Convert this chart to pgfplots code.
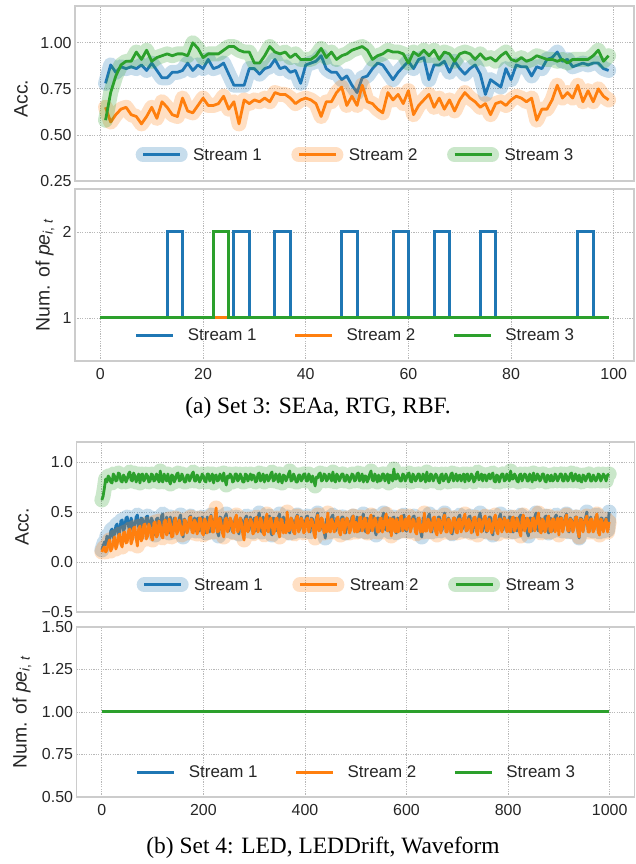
\documentclass[border=0pt]{standalone}
\usepackage{fontspec}
\setmainfont{Liberation Sans}
\newfontfamily\capfont{Liberation Serif}
\usepackage{pgfplots}
\usepackage{pgfplotstable}
\pgfplotsset{compat=1.18}
\definecolor{c1}{HTML}{1F77B4}
\definecolor{c2}{HTML}{FF7F0E}
\definecolor{c3}{HTML}{2CA02C}
\definecolor{axgray}{HTML}{CCCCCC}
\definecolor{gridgray}{HTML}{B8B8B8}
\definecolor{txt}{HTML}{262626}

\pgfplotstableread{
t s1 s2 s3
1 0.78 0.65 0.58
2 0.88 0.57 0.73
3 0.84 0.61 0.82
4 0.87 0.64 0.88
5 0.86 0.65 0.90
6 0.87 0.61 0.90
7 0.86 0.60 0.95
8 0.88 0.56 0.91
9 0.85 0.60 0.96
10 0.89 0.65 0.90
11 0.85 0.59 0.92
12 0.81 0.68 0.93
13 0.81 0.65 0.94
14 0.84 0.61 0.93
15 0.84 0.60 0.94
16 0.85 0.70 0.94
17 0.89 0.63 0.93
18 0.85 0.62 1.00
19 0.88 0.66 0.97
20 0.86 0.70 0.92
21 0.91 0.66 0.94
22 0.86 0.66 0.94
23 0.87 0.67 0.94
24 0.89 0.71 0.96
25 0.83 0.64 0.98
26 0.77 0.68 0.98
27 0.77 0.56 0.96
28 0.77 0.69 0.95
29 0.86 0.67 0.95
30 0.86 0.69 0.89
31 0.83 0.68 0.89
32 0.86 0.70 0.93
33 0.87 0.68 0.98
34 0.91 0.73 0.95
35 0.86 0.72 0.94
36 0.87 0.72 0.95
37 0.84 0.70 0.92
38 0.85 0.67 0.94
39 0.78 0.69 0.91
40 0.88 0.70 0.91
41 0.89 0.69 0.91
42 0.90 0.67 0.93
43 0.93 0.60 0.97
44 0.86 0.68 0.92
45 0.84 0.68 0.95
46 0.84 0.73 0.91
47 0.80 0.76 0.93
48 0.82 0.66 0.94
49 0.77 0.71 0.96
50 0.73 0.66 0.97
51 0.81 0.77 0.98
52 0.82 0.68 0.96
53 0.86 0.67 0.91
54 0.89 0.64 0.93
55 0.88 0.62 0.94
56 0.84 0.73 0.96
57 0.80 0.69 0.95
58 0.84 0.72 0.95
59 0.87 0.67 0.94
60 0.90 0.74 0.89
61 0.86 0.61 0.95
62 0.91 0.66 0.93
63 0.92 0.69 0.96
64 0.80 0.72 0.93
65 0.88 0.65 0.96
66 0.88 0.70 0.91
67 0.90 0.64 0.95
68 0.84 0.69 0.94
69 0.90 0.63 0.90
70 0.86 0.69 0.94
71 0.83 0.73 0.95
72 0.86 0.70 0.94
73 0.88 0.68 0.91
74 0.83 0.65 0.94
75 0.72 0.67 0.91
76 0.80 0.61 0.92
77 0.78 0.67 0.90
78 0.76 0.68 0.93
79 0.86 0.66 0.95
80 0.80 0.69 0.91
81 0.88 0.71 0.90
82 0.87 0.70 0.92
83 0.87 0.68 0.90
84 0.82 0.70 0.91
85 0.87 0.58 0.93
86 0.86 0.64 0.92
87 0.91 0.64 0.91
88 0.92 0.69 0.91
89 0.95 0.77 0.90
90 0.90 0.70 0.91
91 0.91 0.73 0.89
92 0.87 0.70 0.91
93 0.88 0.77 0.91
94 0.89 0.68 0.91
95 0.88 0.74 0.91
96 0.89 0.68 0.93
97 0.89 0.75 0.96
98 0.86 0.71 0.90
99 0.85 0.69 0.93
}\setthree

\pgfplotstableread{
t s1 s2 s3
0 0.12 0.10 0.62
2.5 0.16 0.13 0.66
5 0.20 0.15 0.74
7.5 0.17 0.10 0.83
10 0.26 0.12 0.80
12.5 0.19 0.18 0.86
15 0.22 0.22 0.84
17.5 0.31 0.11 0.80
20 0.33 0.14 0.79
22.5 0.24 0.21 0.88
25 0.28 0.25 0.86
27.5 0.36 0.13 0.81
30 0.38 0.17 0.82
32.5 0.27 0.26 0.89
35 0.30 0.28 0.88
37.5 0.41 0.18 0.81
40 0.42 0.15 0.80
42.5 0.31 0.29 0.87
45 0.34 0.30 0.85
47.5 0.44 0.19 0.80
50 0.45 0.20 0.83
52.5 0.36 0.31 0.88
55 0.29 0.33 0.90
57.5 0.44 0.18 0.82
60 0.40 0.22 0.81
62.5 0.30 0.34 0.89
65 0.36 0.35 0.86
67.5 0.45 0.24 0.80
70 0.47 0.16 0.84
72.5 0.35 0.33 0.88
75 0.31 0.36 0.79
77.5 0.44 0.21 0.87
80 0.43 0.24 0.88
82.5 0.30 0.37 0.81
85 0.37 0.38 0.83
87.5 0.45 0.23 0.88
90 0.46 0.26 0.86
92.5 0.32 0.38 0.80
95 0.33 0.34 0.81
97.5 0.44 0.25 0.88
100 0.41 0.22 0.87
102.5 0.33 0.39 0.81
105 0.27 0.40 0.82
107.5 0.43 0.25 0.88
110 0.44 0.27 0.85
112.5 0.31 0.41 0.80
115 0.35 0.37 0.91
117.5 0.46 0.26 0.82
120 0.48 0.24 0.80
122.5 0.30 0.40 0.88
125 0.32 0.42 0.84
127.5 0.45 0.27 0.81
130 0.39 0.30 0.88
132.5 0.29 0.43 0.81
135 0.45 0.38 0.78
137.5 0.34 0.25 0.87
140 0.30 0.26 0.86
142.5 0.44 0.40 0.80
145 0.42 0.44 0.83
147.5 0.31 0.28 0.88
150 0.36 0.31 0.89
152.5 0.44 0.42 0.81
155 0.47 0.36 0.82
157.5 0.33 0.27 0.88
160 0.25 0.28 0.85
162.5 0.43 0.42 0.80
165 0.40 0.41 0.80
167.5 0.30 0.29 0.87
170 0.34 0.33 0.87
172.5 0.45 0.44 0.81
175 0.46 0.45 0.84
177.5 0.32 0.30 0.88
180 0.38 0.29 0.90
182.5 0.44 0.42 0.81
185 0.31 0.39 0.81
187.5 0.43 0.28 0.87
190 0.44 0.32 0.85
192.5 0.31 0.44 0.80
195 0.36 0.43 0.83
197.5 0.45 0.29 0.88
200 0.43 0.27 0.86
202.5 0.33 0.43 0.81
205 0.29 0.40 0.80
207.5 0.45 0.29 0.88
210 0.39 0.34 0.88
212.5 0.30 0.44 0.81
215 0.47 0.46 0.84
217.5 0.34 0.30 0.88
220 0.33 0.30 0.79
222.5 0.44 0.43 0.86
225 0.41 0.54 0.87
227.5 0.30 0.30 0.81
230 0.26 0.31 0.82
232.5 0.45 0.44 0.88
235 0.44 0.38 0.85
237.5 0.31 0.29 0.81
240 0.37 0.25 0.89
242.5 0.45 0.42 0.82
245 0.48 0.44 0.77
247.5 0.33 0.30 0.86
250 0.31 0.35 0.84
252.5 0.44 0.44 0.88
255 0.40 0.41 0.86
257.5 0.30 0.31 0.80
260 0.35 0.29 0.81
262.5 0.44 0.43 0.88
265 0.45 0.47 0.88
267.5 0.32 0.30 0.81
270 0.28 0.33 0.83
272.5 0.44 0.44 0.88
275 0.42 0.39 0.85
277.5 0.31 0.28 0.80
280 0.38 0.22 0.80
282.5 0.44 0.41 0.88
285 0.46 0.43 0.87
287.5 0.31 0.30 0.81
290 0.32 0.36 0.84
292.5 0.45 0.43 0.88
295 0.39 0.40 0.82
297.5 0.30 0.28 0.87
300 0.44 0.30 0.86
302.5 0.31 0.43 0.80
305 0.34 0.45 0.81
307.5 0.45 0.30 0.88
310 0.49 0.34 0.89
312.5 0.33 0.44 0.81
315 0.30 0.41 0.84
317.5 0.45 0.29 0.88
320 0.41 0.27 0.80
322.5 0.31 0.43 0.86
325 0.37 0.48 0.87
327.5 0.45 0.30 0.81
330 0.46 0.35 0.83
332.5 0.30 0.44 0.88
335 0.27 0.39 0.90
337.5 0.44 0.28 0.81
340 0.43 0.31 0.82
342.5 0.31 0.43 0.88
345 0.35 0.44 0.85
347.5 0.45 0.30 0.80
350 0.48 0.25 0.88
352.5 0.32 0.43 0.82
355 0.32 0.42 0.79
357.5 0.45 0.29 0.87
360 0.40 0.37 0.86
362.5 0.31 0.29 0.81
365 0.45 0.50 0.84
367.5 0.33 0.31 0.88
370 0.29 0.32 0.91
372.5 0.44 0.44 0.81
375 0.42 0.40 0.82
377.5 0.30 0.30 0.88
380 0.36 0.28 0.85
382.5 0.44 0.43 0.80
385 0.47 0.46 0.80
387.5 0.31 0.30 0.87
390 0.33 0.35 0.87
392.5 0.45 0.44 0.81
395 0.41 0.41 0.83
397.5 0.31 0.29 0.88
400 0.38 0.31 0.88
402.5 0.45 0.42 0.81
405 0.46 0.44 0.81
407.5 0.32 0.30 0.88
410 0.30 0.36 0.85
412.5 0.44 0.43 0.80
415 0.43 0.40 0.86
417.5 0.31 0.29 0.81
420 0.35 0.24 0.76
422.5 0.44 0.42 0.85
425 0.49 0.47 0.84
427.5 0.33 0.31 0.88
430 0.32 0.33 0.89
432.5 0.44 0.44 0.81
435 0.40 0.42 0.82
437.5 0.31 0.29 0.88
440 0.24 0.37 0.87
442.5 0.43 0.30 0.81
445 0.44 0.49 0.83
447.5 0.32 0.31 0.88
450 0.37 0.30 0.85
452.5 0.45 0.43 0.81
455 0.47 0.39 0.90
457.5 0.33 0.30 0.82
460 0.31 0.34 0.80
462.5 0.44 0.43 0.88
465 0.42 0.45 0.86
467.5 0.31 0.30 0.81
470 0.36 0.27 0.84
472.5 0.45 0.42 0.88
475 0.45 0.43 0.88
477.5 0.32 0.29 0.81
480 0.29 0.36 0.81
482.5 0.44 0.44 0.87
485 0.41 0.41 0.85
487.5 0.31 0.29 0.80
490 0.38 0.32 0.83
492.5 0.45 0.43 0.88
495 0.46 0.46 0.87
497.5 0.32 0.30 0.81
500 0.33 0.40 0.82
502.5 0.45 0.30 0.88
505 0.43 0.31 0.89
507.5 0.31 0.44 0.81
510 0.37 0.45 0.84
512.5 0.44 0.31 0.88
515 0.48 0.34 0.80
517.5 0.32 0.44 0.86
520 0.30 0.42 0.86
522.5 0.44 0.29 0.80
525 0.41 0.29 0.83
527.5 0.31 0.43 0.88
530 0.35 0.47 0.91
532.5 0.45 0.31 0.82
535 0.46 0.36 0.81
537.5 0.32 0.44 0.88
540 0.27 0.41 0.85
542.5 0.44 0.30 0.80
545 0.44 0.30 0.87
547.5 0.31 0.43 0.81
550 0.38 0.44 0.82
552.5 0.45 0.30 0.88
555 0.49 0.35 0.88
557.5 0.33 0.44 0.81
560 0.32 0.48 0.84
562.5 0.45 0.31 0.88
565 0.40 0.33 0.79
567.5 0.30 0.44 0.87
570 0.36 0.26 0.86
572.5 0.44 0.43 0.81
575 0.45 0.40 0.93
577.5 0.31 0.30 0.83
580 0.29 0.43 0.83
582.5 0.44 0.30 0.88
585 0.42 0.31 0.85
587.5 0.31 0.44 0.81
590 0.37 0.46 0.81
592.5 0.45 0.31 0.88
595 0.47 0.36 0.87
597.5 0.32 0.43 0.81
600 0.31 0.32 0.84
602.5 0.44 0.43 0.88
605 0.44 0.46 0.89
607.5 0.31 0.30 0.81
610 0.38 0.35 0.80
612.5 0.45 0.43 0.88
615 0.46 0.41 0.86
617.5 0.32 0.30 0.81
620 0.33 0.28 0.83
622.5 0.44 0.43 0.88
625 0.40 0.44 0.88
627.5 0.31 0.30 0.81
630 0.25 0.37 0.82
632.5 0.44 0.30 0.88
635 0.43 0.49 0.85
637.5 0.31 0.31 0.80
640 0.36 0.31 0.90
642.5 0.45 0.43 0.82
645 0.48 0.40 0.81
647.5 0.32 0.30 0.88
650 0.30 0.34 0.87
652.5 0.44 0.44 0.81
655 0.42 0.45 0.84
657.5 0.31 0.30 0.88
660 0.37 0.27 0.86
662.5 0.45 0.43 0.81
665 0.45 0.42 0.79
667.5 0.31 0.29 0.87
670 0.32 0.36 0.88
672.5 0.44 0.44 0.81
675 0.49 0.47 0.83
677.5 0.33 0.30 0.88
680 0.35 0.30 0.85
682.5 0.44 0.43 0.80
685 0.41 0.41 0.82
687.5 0.30 0.29 0.88
690 0.28 0.35 0.89
692.5 0.44 0.44 0.81
695 0.44 0.44 0.84
697.5 0.31 0.30 0.88
700 0.39 0.29 0.81
702.5 0.45 0.43 0.86
705 0.47 0.43 0.87
707.5 0.32 0.30 0.81
710 0.33 0.36 0.85
712.5 0.44 0.44 0.88
715 0.42 0.48 0.80
717.5 0.31 0.31 0.87
720 0.36 0.32 0.88
722.5 0.45 0.43 0.81
725 0.46 0.40 0.83
727.5 0.31 0.29 0.88
730 0.30 0.35 0.86
732.5 0.44 0.44 0.80
735 0.43 0.45 0.82
737.5 0.31 0.31 0.88
740 0.38 0.27 0.90
742.5 0.45 0.43 0.82
745 0.49 0.42 0.84
747.5 0.33 0.30 0.88
750 0.31 0.37 0.81
752.5 0.44 0.44 0.87
755 0.40 0.46 0.87
757.5 0.30 0.31 0.81
760 0.35 0.31 0.85
762.5 0.45 0.43 0.88
765 0.45 0.39 0.83
767.5 0.31 0.29 0.87
770 0.27 0.34 0.89
772.5 0.44 0.44 0.81
775 0.44 0.47 0.80
777.5 0.32 0.31 0.87
780 0.37 0.28 0.86
782.5 0.45 0.43 0.80
785 0.48 0.43 0.84
787.5 0.32 0.30 0.88
790 0.32 0.36 0.88
792.5 0.45 0.44 0.81
795 0.41 0.41 0.82
797.5 0.31 0.30 0.88
800 0.36 0.42 0.85
802.5 0.45 0.31 0.81
805 0.45 0.30 0.91
807.5 0.31 0.43 0.83
810 0.30 0.45 0.83
812.5 0.44 0.31 0.88
815 0.43 0.34 0.86
817.5 0.31 0.44 0.81
820 0.38 0.40 0.80
822.5 0.45 0.30 0.87
825 0.47 0.26 0.88
827.5 0.32 0.43 0.81
830 0.33 0.47 0.84
832.5 0.44 0.31 0.88
835 0.41 0.35 0.87
837.5 0.30 0.44 0.81
840 0.26 0.42 0.81
842.5 0.44 0.30 0.88
845 0.44 0.31 0.85
847.5 0.31 0.43 0.80
850 0.37 0.44 0.89
852.5 0.45 0.31 0.82
855 0.49 0.37 0.82
857.5 0.33 0.44 0.88
860 0.31 0.49 0.86
862.5 0.44 0.31 0.81
865 0.42 0.29 0.83
867.5 0.31 0.43 0.88
870 0.35 0.41 0.88
872.5 0.45 0.30 0.81
875 0.46 0.33 0.80
877.5 0.32 0.44 0.87
880 0.29 0.46 0.85
882.5 0.44 0.31 0.81
885 0.43 0.30 0.87
887.5 0.31 0.43 0.81
890 0.38 0.43 0.82
892.5 0.45 0.30 0.88
895 0.47 0.35 0.86
897.5 0.32 0.44 0.81
900 0.33 0.27 0.84
902.5 0.45 0.43 0.88
905 0.44 0.44 0.88
907.5 0.31 0.30 0.81
910 0.37 0.36 0.81
912.5 0.45 0.43 0.88
915 0.48 0.47 0.86
917.5 0.32 0.31 0.81
920 0.30 0.31 0.83
922.5 0.44 0.43 0.88
925 0.42 0.41 0.89
927.5 0.31 0.30 0.81
930 0.36 0.34 0.82
932.5 0.45 0.44 0.88
935 0.45 0.45 0.85
937.5 0.31 0.30 0.81
940 0.24 0.25 0.87
942.5 0.44 0.43 0.81
945 0.43 0.42 0.80
947.5 0.31 0.30 0.87
950 0.38 0.38 0.86
952.5 0.44 0.43 0.81
955 0.50 0.46 0.84
957.5 0.33 0.30 0.88
960 0.32 0.30 0.88
962.5 0.45 0.43 0.81
965 0.41 0.43 0.81
967.5 0.31 0.30 0.87
970 0.35 0.33 0.85
972.5 0.45 0.44 0.81
975 0.47 0.48 0.83
977.5 0.32 0.30 0.88
980 0.30 0.27 0.87
982.5 0.44 0.43 0.81
985 0.44 0.41 0.84
987.5 0.31 0.30 0.88
990 0.39 0.36 0.86
993 0.44 0.43 0.81
996 0.32 0.30 0.87
999 0.50 0.40 0.88
}\setfour

\pgfplotsset{
  base/.style={
    scale only axis, width=559bp,
    axis line style={draw=axgray, line width=1.25bp},
    grid=major,
    grid style={draw=gridgray, line width=0.8bp, dash pattern=on 1.2bp off 1.2bp},
    major tick length=0pt,
    tick label style={font=\fontsize{16}{19}\selectfont, text=txt},
    xticklabel style={yshift=-3.5bp},
    ylabel style={font=\fontsize{19.5}{23}\selectfont, text=txt, anchor=center},
    legend style={draw=none, fill=none, font=\fontsize{17}{20}\selectfont, text=txt,
      anchor=center, legend columns=3,
      /tikz/every odd column/.append style={column sep=13bp},
      /tikz/every even column/.append style={column sep=37bp},
      inner sep=0pt, nodes={inner sep=0pt}},
    legend cell align=left,
  },
  halolegend/.style={legend style={
      /tikz/every odd column/.append style={column sep=5.5bp},
      /tikz/every even column/.append style={column sep=29.5bp}}},
  plainleg/.style={legend image code/.code={\draw[##1, line width=3bp] (0bp,0bp) -- (37bp,0bp);}},
  haloleg/.style={legend image code/.code={%
     \draw[##1, line width=15bp, opacity=0.25, line cap=round] (0bp,0bp) -- (37bp,0bp);
     \draw[##1, line width=3bp] (0bp,0bp) -- (37bp,0bp);}},
  halo/.style={opacity=0.25, line width=15bp, line join=round, line cap=round, forget plot},
  main/.style={line width=2.8bp, line join=round, haloleg},
  pestyle/.style={line width=3bp, line join=miter, plainleg},
}

\begin{document}
\begin{tikzpicture}[x=1bp,y=1bp]
\path[use as bounding box] (0,0) rectangle (636,864);

% ---------- Panel 1: Set 3 accuracy ----------
\begin{axis}[base, halolegend, at={(75bp,683bp)}, anchor=south west, height=175bp,
  xmin=-4.95, xmax=103.95, ymin=0.25, ymax=1.2,
  xtick={0,20,40,60,80,100}, xticklabels={{},{},{},{},{},{}},
  ytick={0.25,0.5,0.75,1}, yticklabels={0.25,0.50,0.75,1.00},
  ylabel={Acc.}, ylabel style={at={(axis description cs:-0.0966,0.47)}},
  legend style={at={(0.5,0.149)}}]
\addplot[c1, halo] table[x=t,y=s1]{\setthree};
\addplot[c1, main] table[x=t,y=s1]{\setthree};
\addplot[c2, halo] table[x=t,y=s2]{\setthree};
\addplot[c2, main] table[x=t,y=s2]{\setthree};
\addplot[c3, halo] table[x=t,y=s3]{\setthree};
\addplot[c3, main] table[x=t,y=s3]{\setthree};
\legend{Stream 1, Stream 2, Stream 3}
\end{axis}

% ---------- Panel 2: Set 3 number of pe ----------
\begin{axis}[base, at={(75bp,503bp)}, anchor=south west, height=172bp,
  xmin=-4.95, xmax=103.95, ymin=0.5, ymax=2.5,
  xtick={0,20,40,60,80,100}, xticklabels={0,20,40,60,80,100},
  ytick={1,2}, yticklabels={1,2},
  ylabel={Num. of \textit{pe}\textsubscript{\textit{i}, \textit{t}}},
  ylabel style={at={(axis description cs:-0.0537,0.5)}},
  legend style={at={(0.5,0.151)}}]
\addplot[c1, pestyle] coordinates {(0,1) (13,1) (13,2) (16,2) (16,1) (26,1) (26,2) (29,2) (29,1)
  (34,1) (34,2) (37,2) (37,1) (47,1) (47,2) (50,2) (50,1) (57,1) (57,2) (60,2) (60,1)
  (65,1) (65,2) (68,2) (68,1) (74,1) (74,2) (77,2) (77,1) (93,1) (93,2) (96,2) (96,1) (99,1)};
\addplot[c2, pestyle] coordinates {(0,1) (99,1)};
\addplot[c3, pestyle] coordinates {(0,1) (22,1) (22,2) (25,2) (25,1) (99,1)};
\legend{Stream 1, Stream 2, Stream 3}
\end{axis}

% ---------- Panel 3: Set 4 accuracy ----------
\begin{axis}[base, halolegend, at={(76.5bp,252bp)}, anchor=south west, width=558bp, height=170bp,
  xmin=-49.95, xmax=1048.95, ymin=-0.5, ymax=1.2,
  xtick={0,200,400,600,800,1000}, xticklabels={{},{},{},{},{},{}},
  ytick={-0.5,0,0.5,1}, yticklabels={−0.5,0.0,0.5,1.0},
  ylabel={Acc.}, ylabel style={at={(axis description cs:-0.0977,0.5)}},
  legend style={at={(0.5,0.159)}}]
\addplot[c1, halo] table[x=t,y=s1]{\setfour};
\addplot[c1, main] table[x=t,y=s1]{\setfour};
\addplot[c2, halo] table[x=t,y=s2]{\setfour};
\addplot[c2, main] table[x=t,y=s2]{\setfour};
\addplot[c3, halo] table[x=t,y=s3]{\setfour};
\addplot[c3, main] table[x=t,y=s3]{\setfour};
\legend{Stream 1, Stream 2, Stream 3}
\end{axis}

% ---------- Panel 4: Set 4 number of pe ----------
\begin{axis}[base, at={(76.5bp,67bp)}, anchor=south west, width=558bp, height=170bp,
  xmin=-49.95, xmax=1048.95, ymin=0.5, ymax=1.5,
  xtick={0,200,400,600,800,1000}, xticklabels={0,200,400,600,800,1000},
  ytick={0.5,0.75,1,1.25,1.5}, yticklabels={0.50,0.75,1.00,1.25,1.50},
  ylabel={Num. of \textit{pe}\textsubscript{\textit{i}, \textit{t}}},
  ylabel style={at={(axis description cs:-0.0977,0.5)}},
  legend style={at={(0.5,0.147)}}]
\addplot[c1, pestyle] coordinates {(0,1) (999,1)};
\addplot[c2, pestyle] coordinates {(0,1) (999,1)};
\addplot[c3, pestyle] coordinates {(0,1) (999,1)};
\legend{Stream 1, Stream 2, Stream 3}
\end{axis}

\node[font=\capfont\fontsize{23.5}{28}\selectfont, text=black] at (318,456) {(a) Set 3: SEAa, RTG, RBF.};
\node[font=\capfont\fontsize{23.5}{28}\selectfont, text=black] at (323,16) {(b) Set 4: LED, LEDDrift, Waveform};
\end{tikzpicture}
\end{document}
